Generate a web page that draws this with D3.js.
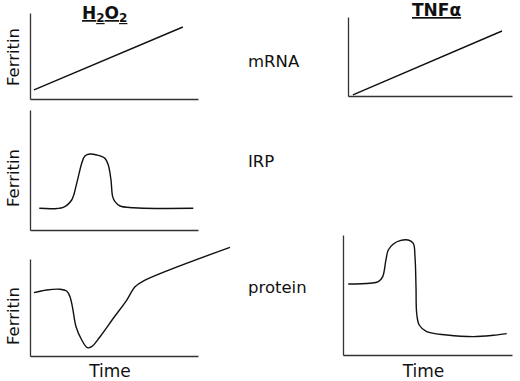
<!DOCTYPE html>
<html>
<head>
<meta charset="utf-8">
<script src="https://cdn.jsdelivr.net/npm/d3@7"></script>
<style>
  body { margin: 0; background: #fff; }
  text { font-family: "DejaVu Sans", sans-serif; fill: #111; }
</style>
</head>
<body>
<div id="chart"></div>
<script>
// curves, time 0-100 and ferritin 0-100 in each panel
const h2o2Mrna = [[2.4, 10.5], [91, 83.7]];
const tnfMrna = [[3, 1.3], [93.9, 82.3]];
const h2o2Irp = [[5.5, 18.1], [19.8, 18.9], [24.8, 25], [27.8, 38.9], [30.8, 55.6], [32.7, 61.7],
  [35.7, 63.3], [39.7, 62.5], [44.6, 59.7], [46.6, 54.2], [48.2, 41.7], [49.2, 27.8], [50.6, 23.6],
  [53.6, 20], [61.5, 18.6], [67.4, 18.1], [97.2, 18.1]];
const h2o2Protein = [[2.4, 65.3], [9.9, 68], [17.9, 68.8], [21.8, 67], [23.8, 61.1], [25.4, 49.2],
  [27.4, 30.2], [30.8, 16.5], [34.1, 8.6], [36.7, 9.6], [41.7, 19.9], [49.6, 38.9], [57.6, 57.7],
  [62.5, 71.4], [67.4, 77.3], [119, 112]];
const tnfProtein = [[3.1, 59.2], [16, 59.8], [20.9, 61.1], [23.5, 65.3], [25.4, 79.2], [26.8, 87.5],
  [29.8, 92.5], [33.7, 95.3], [38.6, 95.8], [41.6, 93.1], [42.6, 81.9], [43.2, 56.9], [43.6, 34.8],
  [45.1, 25], [49.5, 19.4], [61.4, 16.7], [77.1, 15.3], [88.9, 16.4], [96.9, 17.8]];

const rowLabels = ["mRNA", "IRP", "protein"];
const yLabel = "Ferritin";
const xLabel = "Time";

const svg = d3.select("#chart").append("svg")
  .attr("width", 520)
  .attr("height", 381);

// panel boxes [left, right, top, bottom], labelY = centre of the Ferritin label
const panels = [
  { box: [30, 198, 13, 99], data: h2o2Mrna, labelY: 57 },
  { box: [348, 512, 17, 96], data: tnfMrna },
  { box: [30, 198, 110, 230], data: h2o2Irp, labelY: 178 },
  { box: [30, 198, 259, 356], data: h2o2Protein, labelY: 316, xlab: true },
  { box: [343, 512, 235, 355], data: tnfProtein, xlab: true }
];

panels.forEach(p => {
  const [x0, x1, y0, y1] = p.box;
  const x = d3.scaleLinear().domain([0, 100]).range([x0, x1]);
  const y = d3.scaleLinear().domain([0, 100]).range([y1, y0]);

  const g = svg.append("g");

  g.append("g")
    .attr("transform", `translate(0,${y1})`)
    .call(d3.axisBottom(x).tickValues([]).tickSizeOuter(0))
    .select(".domain").attr("stroke", "#333").attr("stroke-width", 1.3);

  g.append("g")
    .attr("transform", `translate(${x0},0)`)
    .call(d3.axisLeft(y).tickValues([]).tickSizeOuter(0))
    .select(".domain").attr("stroke", "#333").attr("stroke-width", 1.3);

  const line = d3.line()
    .x(d => x(d[0]))
    .y(d => y(d[1]))
    .curve(d3.curveCatmullRom.alpha(0.5));

  g.append("path")
    .datum(p.data)
    .attr("fill", "none")
    .attr("stroke", "#111")
    .attr("stroke-width", 1.4)
    .attr("d", line);

  if (p.labelY) {
    g.append("text")
      .attr("transform", `translate(${x0 - 11},${p.labelY}) rotate(-90)`)
      .attr("text-anchor", "middle")
      .style("font-size", "16.5px")
      .text(yLabel);
  }
  if (p.xlab) {
    g.append("text")
      .attr("x", (x0 + x1) / 2 - 4)
      .attr("y", 377)
      .attr("text-anchor", "middle")
      .style("font-size", "17px")
      .text(xLabel);
  }
});

// row labels in the middle
const rowY = [67, 167, 293];
rowLabels.forEach((r, i) => {
  svg.append("text")
    .attr("x", 248)
    .attr("y", rowY[i])
    .style("font-size", "16.5px")
    .text(r);
});

// column titles
const t1 = svg.append("text")
  .attr("x", 82)
  .attr("y", 19)
  .style("font-size", "17px")
  .style("font-weight", "bold")
  .style("text-decoration", "underline");
t1.append("tspan").text("H");
t1.append("tspan").attr("dy", 3).style("font-size", "12px").text("2");
t1.append("tspan").attr("dy", -3).text("O");
t1.append("tspan").attr("dy", 3).style("font-size", "12px").text("2");

svg.append("text")
  .attr("x", 412)
  .attr("y", 16)
  .style("font-size", "17px")
  .style("font-weight", "bold")
  .style("text-decoration", "underline")
  .text("TNF\u03b1");
</script>
</body>
</html>
